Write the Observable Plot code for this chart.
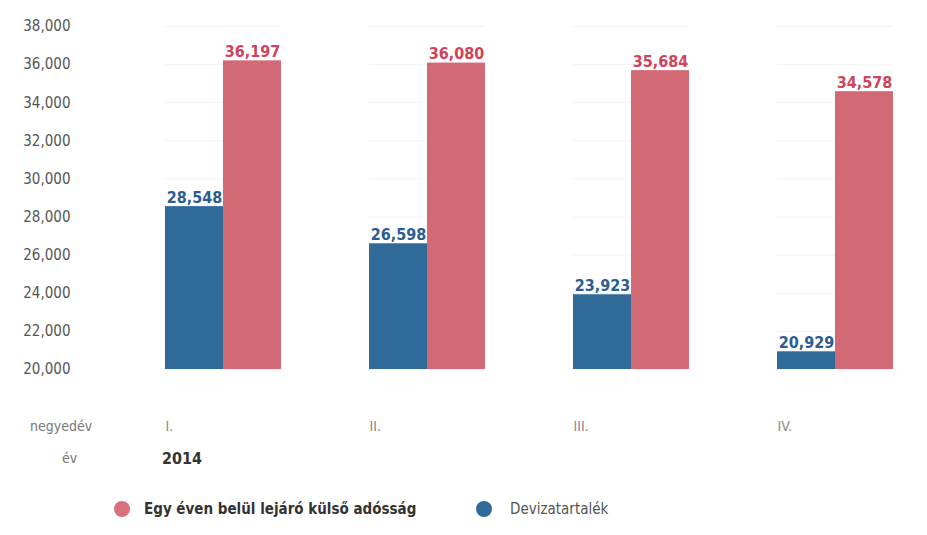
<!DOCTYPE html>
<html>
<head>
<meta charset="utf-8">
<script src="https://cdn.jsdelivr.net/npm/d3@7"></script>
<script src="https://cdn.jsdelivr.net/npm/@observablehq/plot@0.6"></script>
<style>
  body { margin: 0; background: #fff; font-family: "DejaVu Sans Condensed", Roboto, sans-serif; }
  #wrap { position: relative; width: 927px; height: 535px; }
  .abs { position: absolute; white-space: nowrap; }
  .rowlab { color: #777; font-size: 14px; }
  .legend { display: flex; align-items: center; gap: 8px; font-size: 15px; }
  .dot { width: 16px; height: 16px; border-radius: 50%; display: inline-block; }
</style>
</head>
<body>
<div id="wrap"></div>
<script>
const quarters = ["I.", "II.", "III.", "IV."];
const seriesNames = ["Devizatartalék", "Egy éven belül lejáró külső adósság"];
const reserves = [28548, 26598, 23923, 20929];
const shortDebt = [36197, 36080, 35684, 34578];
const yTicks = [20000, 22000, 24000, 26000, 28000, 30000, 32000, 34000, 36000, 38000];
const rowLabels = ["negyedév", "év"];
const yearLabel = "2014";
const barColors = ["#2f6a98", "#d26a75"];
const labelColors = ["#2b5d90", "#d0435b"];

const data = [];
quarters.forEach((q, i) => {
  data.push({quarter: q, series: seriesNames[0], value: reserves[i]});
  data.push({quarter: q, series: seriesNames[1], value: shortDebt[i]});
});
const baseline = yTicks[0];
const fmt = d3.format(",");

const chart = Plot.plot({
  width: 927,
  height: 440,
  marginTop: 26,
  marginBottom: 71,
  marginLeft: 105,
  marginRight: 10,
  style: {fontFamily: '"DejaVu Sans Condensed", Roboto, sans-serif', background: "transparent"},
  fx: {domain: quarters, paddingInner: 0.433, paddingOuter: 0.2, align: 0.709, label: null},
  x: {domain: seriesNames, padding: 0, axis: null},
  y: {domain: [yTicks[0], yTicks[yTicks.length - 1]], label: null},
  color: {domain: seriesNames, range: barColors},
  marks: [
    Plot.gridY(yTicks, {stroke: "#f3f3f3", strokeOpacity: 1}),
    Plot.axisY(yTicks, {tickSize: 0, tickPadding: 95, tickFormat: fmt, fontSize: 15, fill: "#555", textAnchor: "end"}),
    Plot.axisFx({anchor: "bottom", tickSize: 0, tickPadding: 52, textAnchor: "start", dx: -58, fontSize: 14, fill: "#888", label: null}),
    Plot.barY(data, {fx: "quarter", x: "series", y1: () => baseline, y2: "value", fill: "series"}),
    Plot.text(data, {fx: "quarter", x: "series", y: "value", text: d => fmt(d.value), lineAnchor: "bottom", dy: -4, fontSize: 16, fontWeight: "bold", fill: d => labelColors[seriesNames.indexOf(d.series)]})
  ]
});

const wrap = document.getElementById("wrap");
chart.style.position = "absolute";
chart.style.left = "0px";
chart.style.top = "0px";
wrap.appendChild(chart);

function addDiv(text, cls, css) {
  const el = document.createElement("div");
  el.className = "abs " + cls;
  el.textContent = text;
  Object.assign(el.style, css);
  wrap.appendChild(el);
  return el;
}
addDiv(rowLabels[0], "rowlab", {left: "30px", top: "418px"});
addDiv(rowLabels[1], "rowlab", {left: "62px", top: "450px"});
addDiv(yearLabel, "", {left: "162px", top: "449px", fontSize: "16px", fontWeight: "bold", color: "#333"});

const legendItems = [
  {name: seriesNames[1], color: "#d8707c", left: 114, weight: "bold", text: "#333"},
  {name: seriesNames[0], color: "#2f6a98", left: 476, weight: "normal", text: "#555"}
];
legendItems.forEach(it => {
  const el = document.createElement("div");
  el.className = "abs legend";
  Object.assign(el.style, {left: it.left + "px", top: "500px", color: it.text, fontWeight: it.weight});
  const dot = document.createElement("span");
  dot.className = "dot";
  dot.style.background = it.color;
  const t = document.createElement("span");
  t.textContent = it.name;
  t.style.marginLeft = (it.left === 114 ? 6 : 10) + "px";
  el.appendChild(dot);
  el.appendChild(t);
  wrap.appendChild(el);
});
</script>
</body>
</html>
